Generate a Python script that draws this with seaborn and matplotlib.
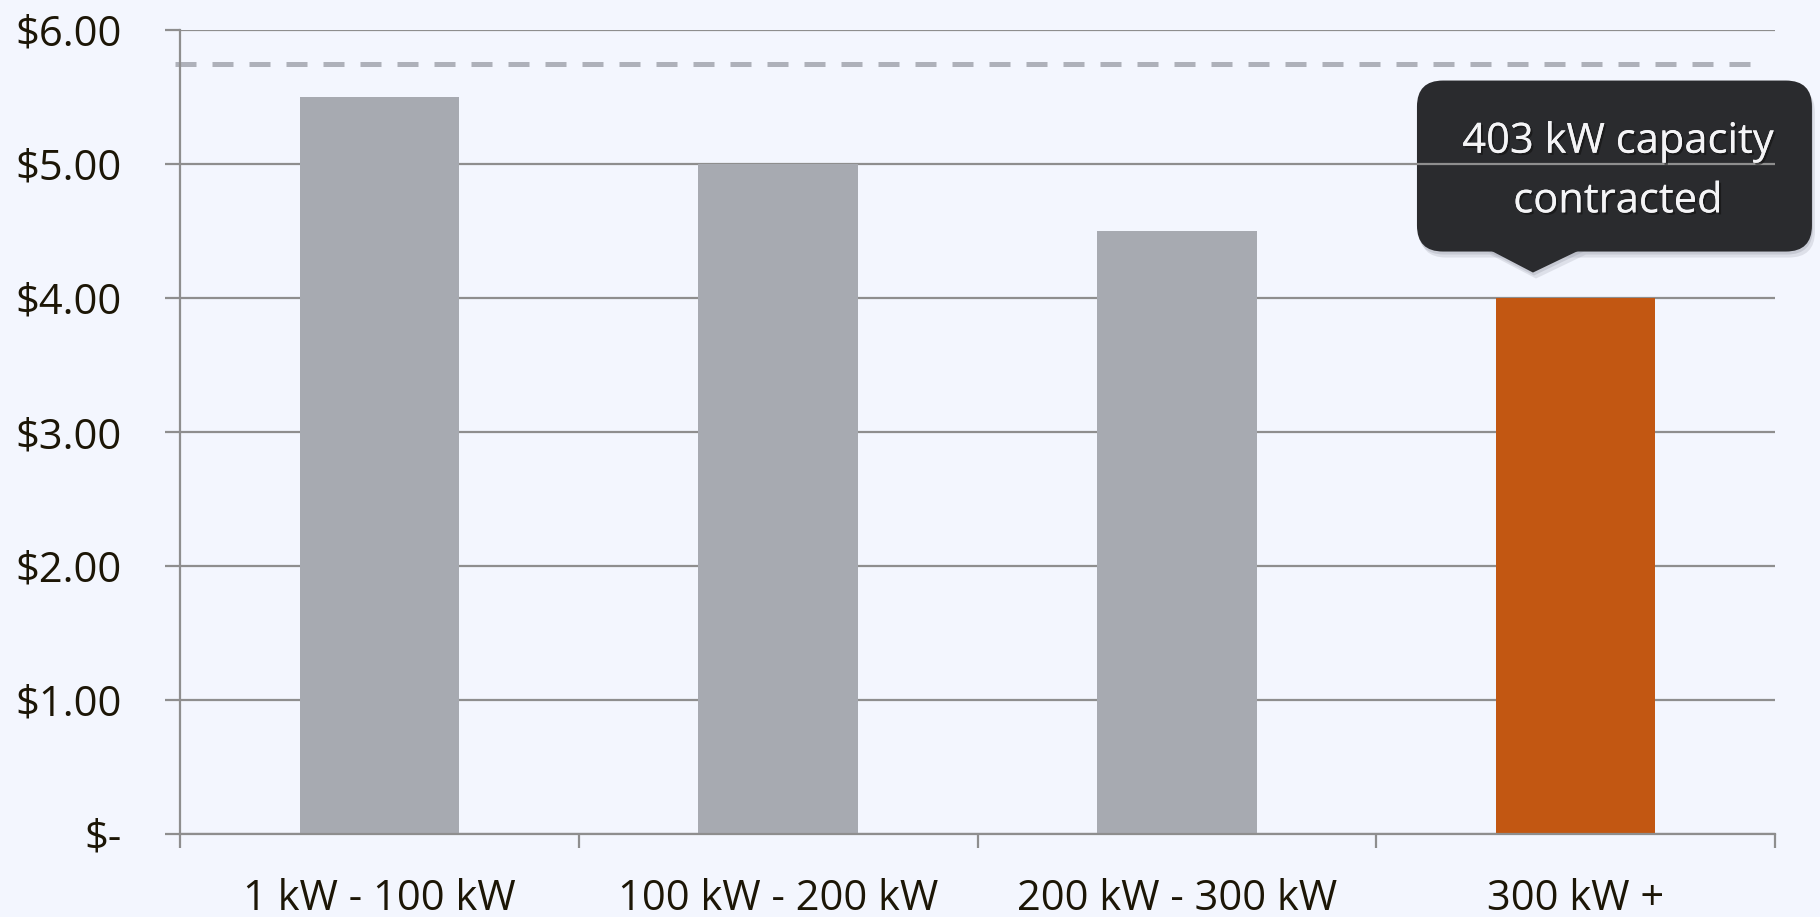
import matplotlib
matplotlib.use("Agg")
import matplotlib.pyplot as plt
import matplotlib.transforms as mtransforms
from matplotlib.patches import FancyBboxPatch, Polygon
import matplotlib.patheffects as pe
import seaborn as sns
import numpy as np
import pandas as pd

# Dados
categories = ["1 kW - 100 kW", "100 kW - 200 kW", "200 kW - 300 kW", "300 kW +"]
prices = [5.50, 5.00, 4.50, 4.00]
bar_colors = ["#A7AAB1", "#A7AAB1", "#A7AAB1", "#C25712"]
reference_price = 5.75
y_ticks = [0, 1, 2, 3, 4, 5, 6]
callout_text = "403 kW capacity\ncontracted"
highlight_idx = 3

# Estilo
bg = "#F3F6FE"
grid_col = "#8E8E8E"
text_col = "#1C1606"
sns.set_theme(style="white")
plt.rcParams['font.family'] = ['Open Sans', 'DejaVu Sans']

df = pd.DataFrame({"faixa": categories, "preco": prices})

fig = plt.figure(figsize=(18.2, 9.17), dpi=100, facecolor=bg)
ax = fig.add_axes([180 / 1820, 1 - 834 / 917, 1595 / 1820, 804 / 917])
ax.set_facecolor(bg)

sns.barplot(data=df, x="faixa", y="preco", hue="faixa", palette=bar_colors,
            width=0.4, saturation=1, legend=False, linewidth=0, ax=ax, zorder=2)

# Linha tracejada de referência
ax.axhline(reference_price, xmin=-0.003, xmax=0.993, color="#AEB1BA", lw=3.6,
           dashes=(4.2, 3.2), zorder=1.5, clip_on=False)

# Eixos
ax.set_xlim(-0.5, len(categories) - 0.5)
ax.set_ylim(0, 6)
ax.set_yticks(y_ticks)
ax.set_yticklabels(["$-" if v == 0 else f"${v:.2f}" for v in y_ticks])
ax.set_xticks(range(len(categories)))
ax.set_xticklabels(categories)
ax.set_xticks(np.arange(-0.5, len(categories), 1), minor=True)
ax.set_xlabel("")
ax.set_ylabel("")

ax.yaxis.grid(True, color=grid_col, lw=1.6)
ax.xaxis.grid(False)
ax.set_axisbelow(True)
ax.tick_params(axis="y", length=10.8, width=1.6, color=grid_col, pad=31,
               labelsize=30, labelcolor=text_col, left=True)
ax.tick_params(axis="x", which="major", length=0, pad=32, labelsize=30, labelcolor=text_col)
ax.tick_params(axis="x", which="minor", length=10, width=1.6, color=grid_col, bottom=True)

for side in ["top", "right"]:
    ax.spines[side].set_visible(False)
for side in ["left", "bottom"]:
    ax.spines[side].set_color(grid_col)
    ax.spines[side].set_linewidth(1.6)

# Balão de destaque (coordenadas em pixels relativas à ponta)
tip_x = highlight_idx - 0.107
tip_y = prices[highlight_idx] + 0.19
trans = mtransforms.ScaledTranslation(tip_x, tip_y, ax.transData)
trans = mtransforms.Affine2D().scale(fig.dpi / 100) + trans


def balloon(dx, dy, color, alpha, z):
    box = FancyBboxPatch((-116 + dx, 21 + dy), 395, 171,
                         boxstyle="round,pad=0,rounding_size=26",
                         transform=trans, facecolor=color, edgecolor="none",
                         alpha=alpha, zorder=z, clip_on=False)
    ptr = Polygon([(-46 + dx, 24 + dy), (50 + dx, 24 + dy), (0 + dx, 0 + dy)],
                  closed=True, transform=trans, facecolor=color, edgecolor="none",
                  alpha=alpha, zorder=z, clip_on=False)
    ax.add_patch(box)
    ax.add_patch(ptr)


balloon(3, -6, "#9FA2AE", 0.25, 0.2)
balloon(1, -3, "#9FA2AE", 0.35, 0.25)
balloon(0, 0, "#2A2B2E", 1.0, 0.3)

ax.text(85, 101, callout_text, transform=trans, ha="center", va="center",
        multialignment="center", fontsize=30, color="#F4F4F6",
        linespacing=1.55, zorder=5, clip_on=False,
        path_effects=[pe.withSimplePatchShadow(offset=(1.5, -1.5), shadow_rgbFace="#111111", alpha=0.6),
                      pe.Normal()])

fig.savefig("out.png", dpi=100, facecolor=bg)
plt.close(fig)
